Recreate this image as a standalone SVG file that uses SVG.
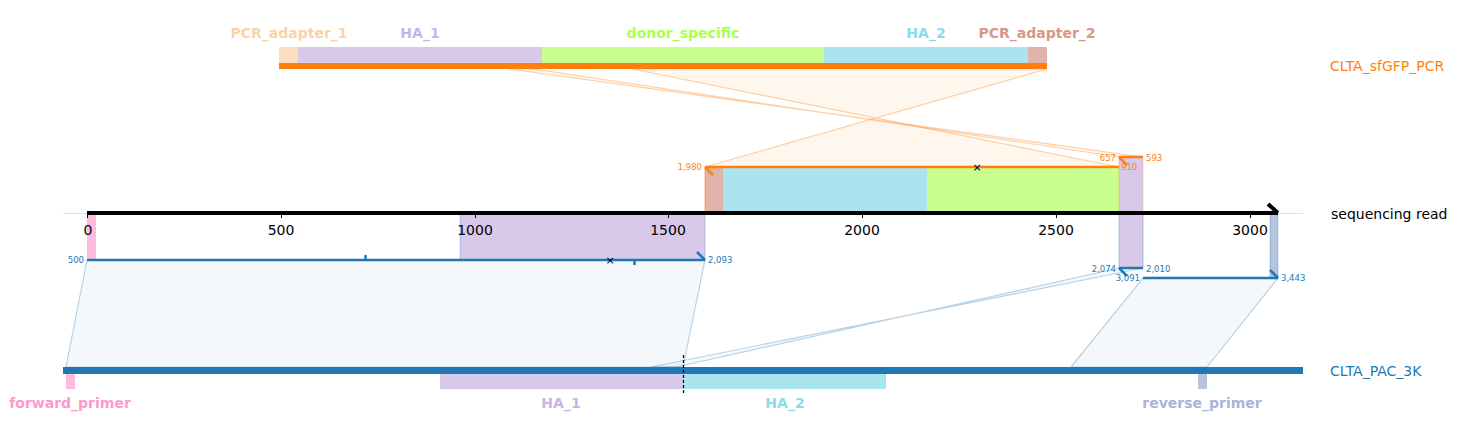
<svg xmlns="http://www.w3.org/2000/svg" width="1457" height="437" viewBox="0 0 1457 437">
<style>
text{font-family:"DejaVu Sans","Liberation Sans",sans-serif}
.flab{font-size:14px;font-weight:bold;text-anchor:middle}
.side{font-size:14px}
.tick{font-size:14px;text-anchor:middle;fill:#000}
.sm{font-size:8.5px}
.o{fill:#ff7f0e}
.b{fill:#1f77b4}
.opoly{fill:#ff7f0e;fill-opacity:0.07;stroke:#ff7f0e;stroke-opacity:0.35;stroke-width:1.2}
.bpoly{fill:#1f77b4;fill-opacity:0.05;stroke:#1f77b4;stroke-opacity:0.3;stroke-width:1.2}
.oline{stroke:#ff7f0e;stroke-width:2.5;fill:none}
.bline{stroke:#1f77b4;stroke-width:2.5;fill:none}
.ha1{fill:#d8c8ea}.ha2{fill:#aae5ef}.don{fill:#c8ff90}.pa1{fill:#f9dfc0}.pa2{fill:#e0b4a8}.fp{fill:#ffbbdd}.rp{fill:#b8c4de}
</style>
<rect width="1457" height="437" fill="#fff"/>
<g id="connectors">
<polygon class="opoly" points="632,69 1047,69 705,167 1119,167"/>
<polygon class="opoly" points="509,69 534,69 1119,157 1143,157"/>
<polygon class="bpoly" points="87,260 705,260 683,367 66,367"/>
<polygon class="bpoly" points="1119,268 1143,268 651,367 676,367"/>
<polygon class="bpoly" points="1143,278 1278,278 1207,367 1071,367"/>
</g>
<g id="CLTA_sfGFP_PCR">
<rect class="pa1" x="279" y="47" width="19" height="16"/>
<rect class="ha1" x="298" y="47" width="244" height="16"/>
<rect class="don" x="542" y="47" width="282" height="16"/>
<rect class="ha2" x="824" y="47" width="204" height="16"/>
<rect class="pa2" x="1028" y="47" width="19" height="16"/>
<rect x="279" y="63" width="768" height="6" fill="#ff7f0e"/>
<text class="flab" x="289" y="38" fill="#f9d4a8">PCR_adapter_1</text>
<text class="flab" x="420" y="38" fill="#c8b4e6">HA_1</text>
<text class="flab" x="683" y="38" fill="#aaff55">donor_specific</text>
<text class="flab" x="926" y="38" fill="#88dde8">HA_2</text>
<text class="flab" x="1037" y="38" fill="#d89888">PCR_adapter_2</text>
<text class="side o" x="1330" y="71">CLTA_sfGFP_PCR</text>
</g>
<g id="read_features">
<rect class="pa2" x="705" y="167" width="18" height="46"/>
<rect class="ha2" x="723" y="167" width="204" height="46"/>
<rect class="don" x="927" y="167" width="192" height="46"/>
<rect class="ha1" x="1119" y="157" width="24" height="56" stroke="#ff7f0e" stroke-opacity="0.3" stroke-width="1"/>
<line x1="705" y1="167" x2="705" y2="213" stroke="#ff7f0e" stroke-opacity="0.6"/>
<rect class="fp" x="87" y="213" width="9" height="47"/>
<rect class="ha1" x="460" y="213" width="245" height="47" stroke="#1f77b4" stroke-opacity="0.3" stroke-width="1"/>
<rect class="ha1" x="1119" y="213" width="24" height="55" stroke="#1f77b4" stroke-opacity="0.35" stroke-width="1"/>
<rect class="rp" x="1270" y="213" width="8" height="65" stroke="#1f77b4" stroke-opacity="0.3" stroke-width="1"/>
</g>
<g id="sequencing_read">
<line x1="63" y1="213.5" x2="1303" y2="213.5" stroke="#e0e0e0" stroke-width="1"/>
<line x1="87" y1="213" x2="1278" y2="213" stroke="#000" stroke-width="4"/>
<line x1="1268" y1="204" x2="1278" y2="213" stroke="#000" stroke-width="4"/>
<g stroke="#000" stroke-width="1">
<line x1="87.5" y1="213" x2="87.5" y2="218"/>
<line x1="281.5" y1="213" x2="281.5" y2="218"/>
<line x1="475.5" y1="213" x2="475.5" y2="218"/>
<line x1="668.5" y1="213" x2="668.5" y2="218"/>
<line x1="862.5" y1="213" x2="862.5" y2="218"/>
<line x1="1056.5" y1="213" x2="1056.5" y2="218"/>
<line x1="1250.5" y1="213" x2="1250.5" y2="218"/>
</g>
<text class="tick" x="88" y="235">0</text>
<text class="tick" x="281" y="235">500</text>
<text class="tick" x="475" y="235">1000</text>
<text class="tick" x="668" y="235">1500</text>
<text class="tick" x="862" y="235">2000</text>
<text class="tick" x="1056" y="235">2500</text>
<text class="tick" x="1250" y="235">3000</text>
<text class="side" x="1331" y="219" fill="#000">sequencing read</text>
</g>
<g id="alignments_PCR">
<line class="oline" x1="705" y1="167" x2="1119" y2="167"/>
<line class="oline" x1="705" y1="167" x2="713" y2="175" stroke-width="2"/>
<line class="oline" x1="1119" y1="157" x2="1143" y2="157"/>
<line class="oline" x1="1119" y1="157" x2="1127" y2="165" stroke-width="2"/>
<text x="977" y="171" font-size="11" text-anchor="middle" fill="#000">×</text>
<text class="sm o" x="702" y="170" text-anchor="end">1,980</text>
<text class="sm o" x="1121" y="170">910</text>
<text class="sm o" x="1116" y="161" text-anchor="end">657</text>
<text class="sm o" x="1146" y="161">593</text>
</g>
<g id="alignments_ref">
<line class="bline" x1="87" y1="260" x2="705" y2="260"/>
<line class="bline" x1="697" y1="252" x2="705" y2="260" stroke-width="2"/>
<line class="bline" x1="365.5" y1="255" x2="365.5" y2="260" stroke-width="2"/>
<line class="bline" x1="634.5" y1="260" x2="634.5" y2="265" stroke-width="2"/>
<text x="610" y="264" font-size="11" text-anchor="middle" fill="#000">×</text>
<line class="bline" x1="1119" y1="268" x2="1143" y2="268"/>
<line class="bline" x1="1119" y1="268" x2="1127" y2="276" stroke-width="2"/>
<line class="bline" x1="1143" y1="278" x2="1278" y2="278"/>
<line class="bline" x1="1270" y1="270" x2="1278" y2="278" stroke-width="2"/>
<text class="sm b" x="84" y="263" text-anchor="end">500</text>
<text class="sm b" x="708" y="263">2,093</text>
<text class="sm b" x="1116" y="272" text-anchor="end">2,074</text>
<text class="sm b" x="1146" y="272">2,010</text>
<text class="sm b" x="1140" y="281" text-anchor="end">3,091</text>
<text class="sm b" x="1281" y="281">3,443</text>
</g>
<g id="CLTA_PAC_3K">
<rect x="63" y="367" width="1240" height="7" fill="#1f77b4"/>
<rect class="fp" x="66" y="374" width="9" height="15"/>
<rect class="ha1" x="440" y="374" width="243" height="15"/>
<rect class="ha2" x="683" y="374" width="203" height="15"/>
<rect class="rp" x="1198" y="374" width="9" height="15"/>
<line x1="683.5" y1="355" x2="683.5" y2="393" stroke="#000" stroke-width="1.2" stroke-dasharray="3,2"/>
<text class="flab" x="70" y="408" fill="#ff99cc">forward_primer</text>
<text class="flab" x="561" y="408" fill="#c8b4e6">HA_1</text>
<text class="flab" x="785" y="408" fill="#88dde8">HA_2</text>
<text class="flab" x="1202" y="408" fill="#a8b4d8">reverse_primer</text>
<text class="side b" x="1330" y="376">CLTA_PAC_3K</text>
</g>
</svg>
